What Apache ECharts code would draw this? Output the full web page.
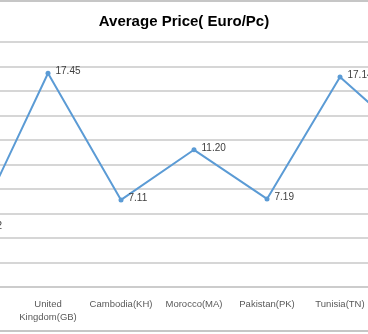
<!DOCTYPE html>
<html>
<head>
<meta charset="utf-8">
<script src="https://cdn.jsdelivr.net/npm/echarts@6/dist/echarts.min.js"></script>
<style>
html,body{margin:0;padding:0;background:#fff;}
#c{width:368px;height:334px;}
</style>
</head>
<body>
<div id="c"></div>
<script>
// Categories (first and last are partly outside the visible crop)
const categories = ["India(IN)", "United\nKingdom(GB)", "Cambodia(KH)", "Morocco(MA)", "Pakistan(PK)", "Tunisia(TN)", "Turkey(TR)"];
// Average price values (Euro/Pc)
const prices = [4.82, 17.45, 7.11, 11.20, 7.19, 17.14, 11.86];
// Y axis ticks
const yMin = 0, yMax = 20, yStep = 2;

const chart = echarts.init(document.getElementById('c'), null, {renderer: 'canvas'});
const font = 'Liberation Sans, Arial, sans-serif';
chart.setOption({
  animation: false,
  backgroundColor: '#ffffff',
  title: {
    text: 'Average Price( Euro/Pc)',
    left: 'center',
    top: 9,
    textStyle: {fontFamily: font, fontSize: 15, fontWeight: 'bold', color: '#000000'}
  },
  graphic: [
    {type: 'line', shape: {x1: 0, y1: 1, x2: 368, y2: 1}, style: {stroke: '#c6c6c6', lineWidth: 2}},
    {type: 'line', shape: {x1: 0, y1: 331, x2: 368, y2: 331}, style: {stroke: '#c6c6c6', lineWidth: 2}}
  ],
  grid: {left: -61.5, width: 511, top: 42, bottom: 47, containLabel: false, outerBoundsMode: 'none'},
  xAxis: {
    type: 'category',
    data: categories,
    boundaryGap: true,
    axisLine: {show: true, lineStyle: {color: '#c8c8c8', width: 1.5}},
    axisTick: {show: false},
    axisLabel: {interval: 0, margin: 11, fontFamily: font, fontSize: 9.5, color: '#595959', lineHeight: 13}
  },
  yAxis: {
    type: 'value',
    min: yMin, max: yMax, interval: yStep,
    axisLine: {show: false},
    axisTick: {show: false},
    axisLabel: {show: false},
    splitLine: {show: true, lineStyle: {color: '#c8c8c8', width: 1.5}}
  },
  series: [{
    type: 'line',
    data: prices,
    symbol: 'circle',
    symbolSize: 5,
    lineStyle: {color: '#5b9bd5', width: 2},
    itemStyle: {color: '#5b9bd5'},
    label: {
      show: true,
      position: 'right',
      distance: 5,
      offset: [0, -2],
      formatter: p => p.value.toFixed(2),
      fontFamily: font, fontSize: 10, color: '#404040'
    }
  }]
});
</script>
</body>
</html>
